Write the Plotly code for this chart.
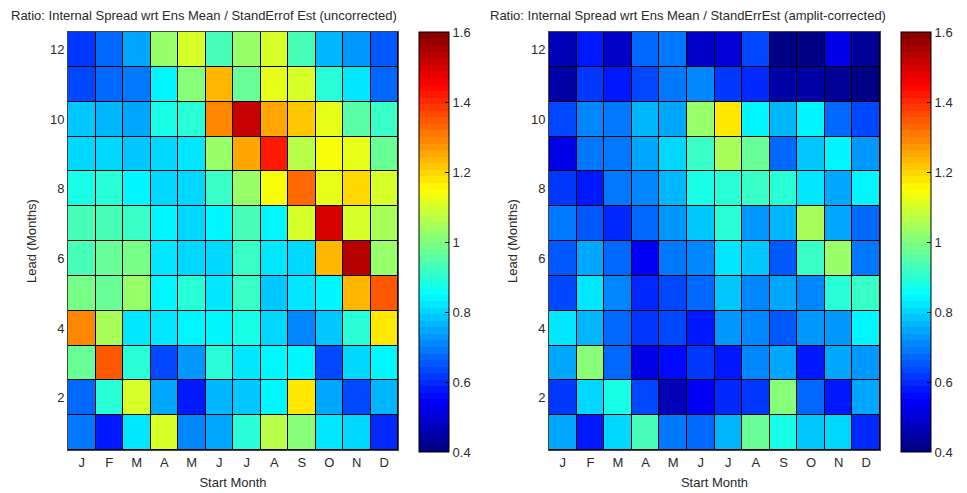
import plotly.graph_objects as go

# Start months (columns) and lead times (rows, lead 1 at the bottom)
months = ["J", "F", "M", "A", "M", "J", "J", "A", "S", "O", "N", "D"]
month_pos = list(range(1, 13))
leads = list(range(1, 13))

# Ratio of internal spread to standard error, uncorrected; one row per lead 1..12
ratio_uncorrected = [
    [0.69, 0.58, 0.83, 1.11, 0.71, 0.75, 0.89, 1.07, 1.00, 0.83, 0.81, 0.60],
    [0.68, 0.90, 1.10, 0.75, 0.57, 0.76, 0.79, 0.84, 1.18, 0.75, 0.63, 0.77],
    [0.98, 1.34, 0.89, 0.64, 0.73, 0.90, 0.82, 0.84, 0.85, 0.64, 0.81, 0.85],
    [1.30, 1.05, 0.82, 0.82, 0.84, 0.85, 0.87, 0.81, 0.71, 0.79, 0.90, 1.17],
    [0.99, 0.97, 1.03, 0.85, 0.89, 0.82, 0.92, 0.79, 0.82, 0.85, 1.23, 1.34],
    [0.94, 0.97, 0.99, 0.82, 0.80, 0.80, 0.91, 0.82, 0.81, 1.24, 1.53, 1.03],
    [0.93, 0.93, 0.91, 0.85, 0.81, 0.84, 0.94, 0.85, 1.10, 1.49, 1.11, 1.04],
    [0.87, 0.90, 0.85, 0.81, 0.80, 0.92, 1.03, 1.15, 1.32, 1.12, 1.19, 1.10],
    [0.80, 0.81, 0.79, 0.81, 0.83, 1.03, 1.26, 1.43, 1.06, 1.15, 1.13, 0.97],
    [0.79, 0.77, 0.75, 0.87, 0.90, 1.29, 1.51, 1.26, 1.21, 1.12, 0.96, 0.92],
    [0.63, 0.68, 0.69, 0.85, 1.01, 1.23, 0.98, 1.13, 1.10, 0.90, 0.83, 0.68],
    [0.62, 0.68, 0.74, 1.03, 1.11, 0.94, 1.03, 1.11, 0.93, 0.77, 0.73, 0.66],
]

# Same ratio after amplitude correction
ratio_corrected = [
    [0.74, 0.58, 0.81, 0.94, 0.69, 0.68, 0.77, 0.97, 0.87, 0.79, 0.80, 0.60],
    [0.62, 0.80, 0.87, 0.63, 0.47, 0.54, 0.60, 0.62, 1.01, 0.68, 0.58, 0.75],
    [0.74, 1.00, 0.67, 0.53, 0.56, 0.62, 0.58, 0.71, 0.75, 0.58, 0.75, 0.73],
    [0.82, 0.76, 0.68, 0.61, 0.64, 0.58, 0.73, 0.71, 0.66, 0.73, 0.73, 0.85],
    [0.63, 0.83, 0.71, 0.60, 0.63, 0.68, 0.79, 0.71, 0.75, 0.71, 0.90, 0.92],
    [0.66, 0.75, 0.67, 0.54, 0.69, 0.71, 0.83, 0.79, 0.66, 0.92, 1.03, 0.69],
    [0.69, 0.66, 0.60, 0.68, 0.73, 0.79, 0.90, 0.73, 0.77, 1.04, 0.74, 0.68],
    [0.62, 0.57, 0.70, 0.71, 0.76, 0.87, 0.90, 0.91, 0.89, 0.82, 0.75, 0.85],
    [0.53, 0.69, 0.70, 0.75, 0.80, 0.91, 1.05, 0.98, 0.67, 0.79, 0.85, 0.73],
    [0.64, 0.71, 0.70, 0.77, 0.75, 1.03, 1.17, 0.85, 0.76, 0.84, 0.67, 0.64],
    [0.44, 0.62, 0.57, 0.64, 0.69, 0.71, 0.61, 0.60, 0.44, 0.45, 0.43, 0.41],
    [0.46, 0.57, 0.49, 0.67, 0.69, 0.49, 0.51, 0.63, 0.40, 0.41, 0.53, 0.42],
]

cbar_ticks = [0.4, 0.6, 0.8, 1.0, 1.2, 1.4, 1.6]
cbar_labels = ["0.4", "0.6", "0.8", "1", "1.2", "1.4", "1.6"]
zmin, zmax = 0.4, 1.6


def jet(t):
    """MATLAB-style jet colour at fraction t in [0, 1]."""
    def ramp(x):
        return max(0.0, min(1.0, x))
    r = ramp(1.5 - abs(4 * t - 3))
    g = ramp(1.5 - abs(4 * t - 2))
    b = ramp(1.5 - abs(4 * t - 1))
    return "rgb(%d,%d,%d)" % (round(r * 255), round(g * 255), round(b * 255))


# 64-level stepped jet colour scale
n_levels = 64
jet_scale = []
for i in range(n_levels):
    c = jet((i + 0.5) / n_levels)
    jet_scale.append([i / n_levels, c])
    jet_scale.append([(i + 1) / n_levels, c])

W, H = 967, 493
font = "Liberation Sans, Arial, sans-serif"
text_color = "#2a2a2a"

plot_top, plot_bot = 32, 450
cb_top, cb_bot = 32, 452


def cbar(x_px):
    return dict(
        x=x_px / W, xanchor="left", xpad=0,
        y=1 - (cb_top + cb_bot) / 2 / H, yanchor="middle", ypad=0,
        lenmode="pixels", len=cb_bot - cb_top,
        thickness=30, thicknessmode="pixels",
        outlinewidth=1, outlinecolor="black",
        tickvals=cbar_ticks, ticktext=cbar_labels,
        ticks="inside", ticklen=4, tickcolor="black",
        tickfont=dict(family=font, size=13, color=text_color),
    )


fig = go.Figure()
fig.add_trace(go.Heatmap(
    z=ratio_uncorrected, x=month_pos, y=leads,
    colorscale=jet_scale, zmin=zmin, zmax=zmax,
    xgap=1, ygap=1, colorbar=cbar(419),
    xaxis="x", yaxis="y",
))
fig.add_trace(go.Heatmap(
    z=ratio_corrected, x=month_pos, y=leads,
    colorscale=jet_scale, zmin=zmin, zmax=zmax,
    xgap=1, ygap=1, colorbar=cbar(901),
    xaxis="x2", yaxis="y2",
))

ydom = [1 - plot_bot / H, 1 - plot_top / H]
axis_common = dict(
    showgrid=False, zeroline=False, showline=True, mirror=True,
    linecolor="#444", linewidth=1, ticks="",
    tickfont=dict(family=font, size=13, color=text_color),
)
title_font = dict(family=font, size=13, color=text_color)

fig.update_layout(
    width=W, height=H,
    margin=dict(l=0, r=0, t=0, b=0),
    paper_bgcolor="white", plot_bgcolor="black",
    showlegend=False,
    xaxis=dict(domain=[68 / W, 398 / W], range=[0.5, 12.5],
               tickvals=month_pos, ticktext=months, anchor="y",
               title=dict(text="Start Month", standoff=9, font=title_font),
               **axis_common),
    yaxis=dict(domain=ydom, range=[0.5, 12.5], tickvals=[2, 4, 6, 8, 10, 12],
               anchor="x",
               title=dict(text="Lead (Months)", standoff=10, font=title_font),
               **axis_common),
    xaxis2=dict(domain=[549 / W, 880 / W], range=[0.5, 12.5],
                tickvals=month_pos, ticktext=months, anchor="y2",
                title=dict(text="Start Month", standoff=9, font=title_font),
                **axis_common),
    yaxis2=dict(domain=ydom, range=[0.5, 12.5], tickvals=[2, 4, 6, 8, 10, 12],
                anchor="x2",
                title=dict(text="Lead (Months)", standoff=10, font=title_font),
                **axis_common),
    annotations=[
        dict(text="Ratio: Internal Spread wrt Ens Mean / StandErrof Est (uncorrected)",
             x=9 / W, y=1 - 15 / H, xref="paper", yref="paper",
             xanchor="left", yanchor="middle", showarrow=False,
             font=title_font),
        dict(text="Ratio: Internal Spread wrt Ens Mean / StandErrEst (amplit-corrected)",
             x=488 / W, y=1 - 15 / H, xref="paper", yref="paper",
             xanchor="left", yanchor="middle", showarrow=False,
             font=title_font),
    ],
)

fig.write_html("out.html")
